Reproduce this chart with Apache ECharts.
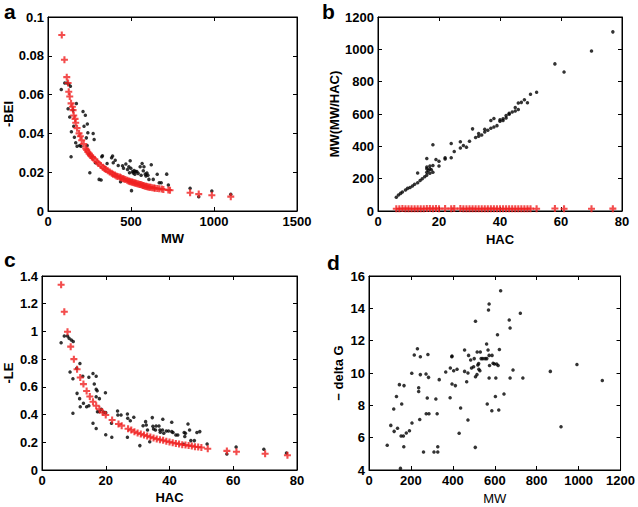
<!DOCTYPE html>
<html><head><meta charset="utf-8">
<script src="https://cdn.jsdelivr.net/npm/echarts@6/dist/echarts.min.js"></script>
<style>html,body{margin:0;padding:0;background:#fff}#c{width:638px;height:507px}</style>
</head><body><div id="c"></div>
<script>
// Panel a: MW vs -BEI
const aBlack = [[80,0.0626],[101,0.066],[115,0.066],[125,0.0653],[135,0.0643],[121,0.0527],[131,0.0485],[141,0.0408],[139,0.028],[151,0.052],[155,0.0437],[159,0.038],[167,0.0352],[171,0.0554],[175,0.0334],[191,0.0338],[199,0.0334],[211,0.0513],[217,0.0437],[225,0.0494],[231,0.0377],[236,0.0338],[237,0.0448],[240,0.0403],[248,0.0293],[252,0.0197],[264,0.028],[272,0.04],[278,0.0369],[286,0.0249],[308,0.0163],[320,0.016],[324,0.028],[328,0.0285],[356,0.0245],[383,0.0274],[389,0.0283],[393,0.0249],[405,0.0262],[423,0.0235],[437,0.0151],[449,0.0233],[455,0.022],[469,0.0242],[479,0.0214],[487,0.0228],[491,0.0197],[495,0.0259],[499,0.022],[503,0.0105],[509,0.0204],[513,0.0196],[519,0.0209],[523,0.019],[527,0.0204],[535,0.0204],[543,0.0194],[555,0.0228],[561,0.0184],[567,0.0245],[574,0.0208],[578,0.0228],[586,0.019],[590,0.018],[596,0.0196],[602,0.0184],[608,0.0163],[622,0.0238],[634,0.0163],[658,0.0189],[670,0.0146],[682,0.0146],[715,0.019],[725,0.0134],[856,0.0117],[908,0.0074],[987,0.0103],[1101,0.0086]];
const aRed = [[83,0.0907],[99,0.078],[113,0.069],[121,0.066],[125,0.0615],[131,0.059],[139,0.0555],[147,0.0537],[151,0.052],[155,0.0492],[163,0.0475],[167,0.0455],[175,0.0427],[187,0.040],[195,0.0385],[203,0.0365],[215,0.0345],[227,0.0322],[233,0.0315],[240,0.0304],[248,0.0296],[256,0.0286],[264,0.028],[272,0.0273],[282,0.0265],[296,0.0252],[304,0.0245],[318,0.0235],[330,0.0226],[340,0.0219],[348,0.0214],[360,0.0207],[372,0.0201],[384,0.0195],[392,0.019],[403,0.0185],[412,0.0181],[420,0.0178],[433,0.0175],[440,0.0171],[450,0.0167],[457,0.0165],[466,0.0162],[477,0.0158],[485,0.0155],[491,0.0153],[497,0.0151],[505,0.0149],[510,0.0148],[517,0.0146],[524,0.0144],[530,0.0143],[538,0.0141],[545,0.0139],[552,0.0137],[558,0.0136],[565,0.0134],[572,0.0132],[578,0.013],[586,0.0128],[592,0.0127],[598,0.0125],[605,0.0124],[612,0.0123],[618,0.0122],[628,0.012],[638,0.0118],[645,0.0117],[658,0.0116],[670,0.0115],[685,0.0113],[695,0.0111],[725,0.0108],[735,0.0107],[856,0.0094],[908,0.0087],[987,0.0081],[1101,0.0074]];
// Panel b: HAC vs MW(MW/HAC)
const bBlack = [[6,85],[6.7,99],[7.4,109],[8,118],[9,130],[9.7,140],[10.5,146],[11.3,155],[12,165],[13,175],[13,235],[13.8,188],[14.5,200],[15.3,212],[16,222],[16,240],[16,262],[16,272],[16,325],[16.5,250],[17,233],[17,262],[17,278],[17.5,255],[18,410],[18,240],[18,282],[19,318],[20,278],[20,308],[22,322],[22,330],[24,330],[24,418],[25,368],[27,390],[27,428],[28,405],[29,395],[30,432],[31,508],[32,455],[33,462],[33,480],[34,470],[35,488],[35,505],[36,500],[37,512],[37,560],[38,520],[38,572],[39,528],[40,555],[40,565],[41,560],[41,570],[42,575],[42,590],[43,598],[43,605],[44,612],[45,618],[45,640],[46,628],[46,668],[47,672],[48,688],[49,670],[50,722],[52,735],[58,910],[61,860],[70,990],[77,1108]];
const bRed = [[6,14.2],[7,14.1],[8,14.8],[9,14.4],[10,14.6],[11,14.1],[12,13.8],[13,14.5],[14,14.3],[15,14.1],[16,15.2],[17,14.9],[18,14.6],[19,15.1],[20,14.4],[22,14.8],[24,14.5],[25,14.7],[27,14.9],[28,14.2],[29,13.9],[30,14.4],[31,14.6],[32,14.2],[33,14.3],[34,14.1],[35,14.4],[36,14.0],[37,14.6],[38,14.5],[39,14.1],[40,14.2],[41,14.0],[42,14.1],[43,14.2],[44,14.0],[45,14.0],[46,14.3],[47,14.2],[48,14.3],[49,13.8],[50,14.4],[52,14.1],[58,15.7],[61,14.1],[70,14.1],[77,14.4]];
// Panel c: HAC vs -LE
const cBlack = [[6,0.919],[7,0.967],[8,0.967],[8.5,0.95],[9.2,0.938],[9.8,0.928],[8.8,0.707],[9.7,0.659],[9.7,0.409],[10.9,0.734],[11,0.553],[11.9,0.769],[11.8,0.515],[12,0.457],[12.8,0.676],[13,0.481],[14,0.457],[14.7,0.669],[14.7,0.464],[16,0.697],[16,0.337],[16.4,0.62],[17,0.676],[17,0.582],[17,0.529],[17,0.3],[17.3,0.572],[17.4,0.421],[18,0.515],[18,0.421],[18.6,0.438],[19.3,0.419],[19.9,0.558],[20,0.414],[20,0.255],[21.8,0.337],[21.9,0.236],[23.7,0.426],[23.8,0.397],[24.8,0.397],[26.8,0.404],[26.9,0.373],[26.8,0.236],[27.7,0.356],[28.8,0.38],[30.7,0.176],[31.7,0.32],[32.5,0.349],[32.7,0.325],[33.1,0.289],[33.8,0.204],[34.6,0.378],[34.8,0.315],[35,0.296],[35.6,0.289],[35.8,0.318],[36.7,0.318],[37,0.289],[37.1,0.272],[37.9,0.366],[37.8,0.289],[38.2,0.265],[39,0.282],[39.7,0.282],[40.7,0.344],[40.7,0.277],[41.1,0.27],[42,0.253],[42.6,0.253],[44.4,0.186],[44.6,0.27],[44.8,0.241],[45,0.265],[45.8,0.332],[46.3,0.289],[46.7,0.212],[47.8,0.212],[48.6,0.27],[49.5,0.277],[51.8,0.188],[58,0.115],[60.9,0.166],[69.6,0.149],[76.7,0.123]];
const cRed = [[6,1.337],[7,1.142],[8,0.998],[9,0.89],[10,0.80],[11,0.727],[12,0.667],[13,0.62],[14,0.57],[15,0.53],[16,0.493],[17,0.464],[18,0.438],[19,0.416],[20,0.397],[22,0.361],[24,0.332],[25,0.32],[27,0.298],[28,0.288],[29,0.276],[30,0.267],[31,0.26],[32,0.252],[33,0.245],[34,0.238],[35,0.231],[36,0.224],[37,0.219],[38,0.214],[39,0.207],[40,0.202],[41,0.197],[42,0.192],[43,0.188],[44,0.183],[45,0.18],[46,0.176],[47,0.174],[48,0.168],[49,0.166],[50,0.162],[52,0.153],[58,0.138],[61,0.132],[70,0.117],[77,0.106]];
// Panel d: MW vs -delta G
const dBlack = [[87,5.53],[104,6.76],[118,7.77],[120,6.39],[131,8.54],[136,6.58],[145,9.28],[150,4.1],[153,6.1],[156,8.08],[164,6.1],[166,5.44],[167,9.22],[178,6.29],[193,6.43],[205,6.91],[204,9.98],[216,11.11],[231,11.5],[237,9.09],[237,8.85],[245,11.0],[245,9.9],[242,7.13],[260,5.11],[272,9.94],[278,8.45],[273,7.48],[286,7.48],[281,11.15],[284,9.73],[310,5.11],[319,8.39],[325,7.48],[328,5.44],[328,5.11],[335,9.59],[366,10.06],[387,8.47],[388,10.31],[395,11.0],[396,11.05],[396,9.32],[404,10.14],[412,9.22],[420,10.23],[430,6.27],[437,7.84],[456,11.42],[456,10.1],[466,9.46],[472,10.0],[472,7.09],[475,11.09],[485,10.8],[489,10.31],[499,10.39],[502,10.89],[508,9.77],[507,5.4],[508,13.2],[515,9.9],[519,10.5],[516,11.3],[523,10.58],[524,10.23],[531,11.3],[529,10.14],[535,10.89],[543,10.89],[554,10.89],[561,11.8],[562,10.89],[564,8.08],[568,11.42],[570,13.9],[573,14.27],[573,11.09],[575,10.47],[573,9.69],[587,11.09],[586,7.67],[592,10.6],[598,10.56],[603,8.54],[605,9.69],[609,10.56],[613,12.37],[616,10.47],[619,7.71],[622,11.46],[628,15.09],[644,8.7],[669,13.28],[673,12.78],[673,9.69],[687,10.19],[722,13.69],[734,9.69],[865,10.1],[916,6.68],[992,10.52],[1113,9.53]];

// Tick values per axis
const aXTicks = [0,500,1000,1500], aYTicks = [0,0.02,0.04,0.06,0.08,0.1];
const bXTicks = [0,20,40,60,80], bYTicks = [0,200,400,600,800,1000,1200];
const cXTicks = [0,20,40,60,80], cYTicks = [0,0.2,0.4,0.6,0.8,1,1.2,1.4];
const dXTicks = [0,200,400,600,800,1000,1200], dYTicks = [4,6,8,10,12,14,16];

const panels = [
  {letter:'a', xName:'MW', yName:'-BEI', xT:aXTicks, yT:aYTicks, black:aBlack, red:aRed},
  {letter:'b', xName:'HAC', yName:'MW(MW/HAC)', xT:bXTicks, yT:bYTicks, black:bBlack, red:bRed},
  {letter:'c', xName:'HAC', yName:'-LE', xT:cXTicks, yT:cYTicks, black:cBlack, red:cRed},
  {letter:'d', xName:'MW', yName:'\u2212 delta G', xT:dXTicks, yT:dYTicks, black:dBlack, red:null}
];

// layout
const grids = [
  {left:48, top:17, width:249, height:194},
  {left:378, top:17, width:244, height:194},
  {left:42, top:276, width:255, height:194},
  {left:369, top:276, width:253, height:194}
];
const yGaps = [33, 32, 27, 24];
const xGaps = [21, 22, 21, 22];
const letterPos = [[4,1],[322,1],[4,249],[327,252]];
const FONT = 'Liberation Sans, Arial, sans-serif';
const plusPath = 'path://M3.5,0H6.5V3.5H10V6.5H6.5V10H3.5V6.5H0V3.5H3.5Z';
const fmt = v => String(+Number(v).toFixed(6));
const mkTick = () => ({show:true, inside:true, length:4, lineStyle:{color:'#000', width:1}});
const mkLine = () => ({show:true, onZero:false, lineStyle:{color:'#000', width:1}});
const mkLab = () => ({show:true, color:'#000', fontFamily:FONT, fontWeight:'bold', fontSize:13, margin:4, formatter:fmt});

const xAxis = [], yAxis = [], series = [], graphic = [];
panels.forEach((p, i) => {
  const xMin = p.xT[0], xMax = p.xT[p.xT.length-1], yMin = p.yT[0], yMax = p.yT[p.yT.length-1];
  const xi = p.xT[1]-p.xT[0], yi = p.yT[1]-p.yT[0];
  xAxis.push({gridIndex:i, type:'value', position:'bottom', min:xMin, max:xMax, interval:xi,
    axisLine:mkLine(), axisTick:mkTick(), axisLabel:mkLab(), splitLine:{show:false},
    name:p.xName, nameLocation:'middle', nameGap:xGaps[i],
    nameTextStyle:{color:'#000', fontFamily:FONT, fontWeight: i===3 ? 'normal' : 'bold', fontSize:13}});
  xAxis.push({gridIndex:i, type:'value', position:'top', min:xMin, max:xMax, interval:xi,
    axisLine:mkLine(), axisTick:mkTick(), axisLabel:{show:false}, splitLine:{show:false}});
  yAxis.push({gridIndex:i, type:'value', position:'left', min:yMin, max:yMax, interval:yi,
    axisLine:mkLine(), axisTick:mkTick(), axisLabel:mkLab(), splitLine:{show:false},
    name:p.yName, nameLocation:'middle', nameGap:yGaps[i],
    nameTextStyle:{color:'#000', fontFamily:FONT, fontWeight:'bold', fontSize:13}});
  yAxis.push({gridIndex:i, type:'value', position:'right', min:yMin, max:yMax, interval:yi,
    axisLine:mkLine(), axisTick:mkTick(), axisLabel:{show:false}, splitLine:{show:false}});
  series.push({type:'scatter', xAxisIndex:2*i, yAxisIndex:2*i, data:p.black,
    symbol:'circle', symbolSize:3.5, itemStyle:{color:'#000'}});
  if (p.red) series.push({type:'scatter', xAxisIndex:2*i, yAxisIndex:2*i, data:p.red,
    symbol:plusPath, symbolSize:7, itemStyle:{color:'#f02020', opacity:0.8}});
  graphic.push({type:'text', left:letterPos[i][0], top:letterPos[i][1],
    style:{text:p.letter, fill:'#000', font:'bold 21px ' + FONT}});
});

const chart = echarts.init(document.getElementById('c'), null, {renderer:'svg'});
chart.setOption({
  animation:false,
  grid: grids.map(g => Object.assign({show:true, borderColor:'#000', borderWidth:1}, g)),
  xAxis, yAxis, series, graphic
});
</script></body></html>
